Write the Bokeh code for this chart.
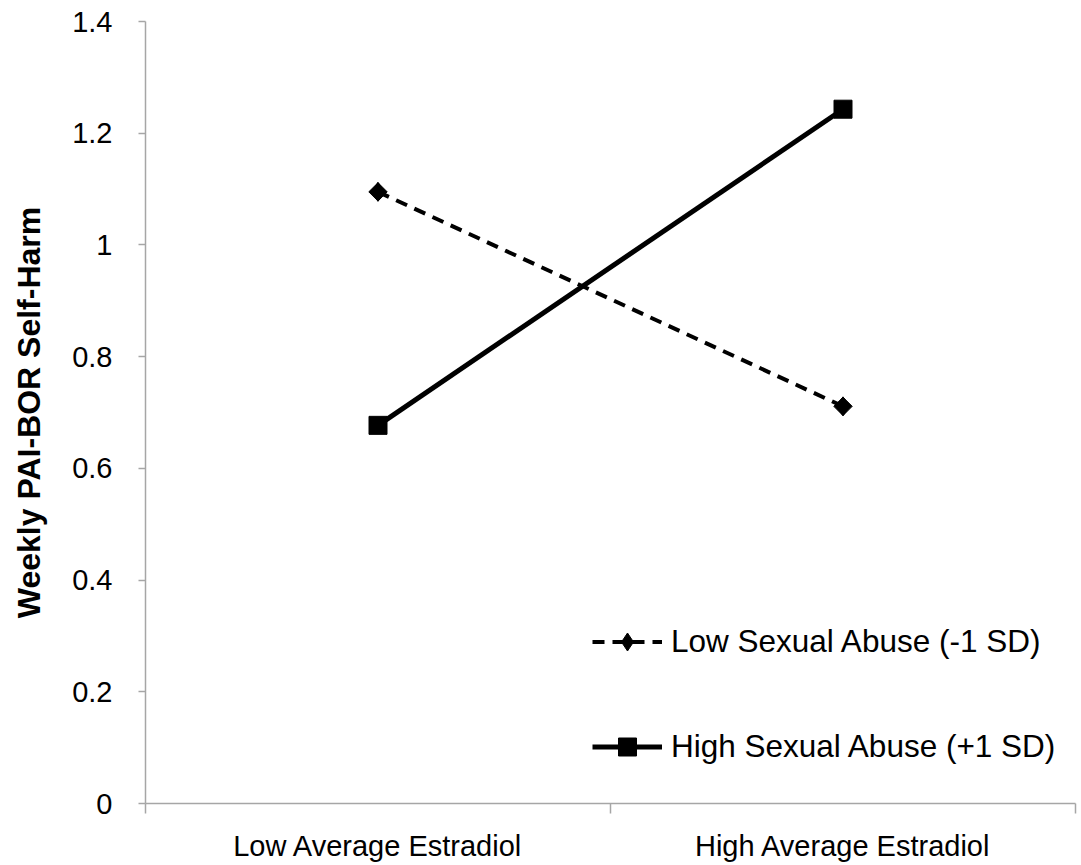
import math
from bokeh.plotting import figure
from bokeh.models import FixedTicker, Range1d, Legend, LegendItem
from bokeh.embed import file_html
from bokeh.resources import INLINE

categories = ["Low Average Estradiol", "High Average Estradiol"]
low_abuse = [1.095, 0.711]
high_abuse = [0.677, 1.243]
series_names = ["Low Sexual Abuse (-1 SD)", "High Sexual Abuse (+1 SD)"]
y_ticks = [0, 0.2, 0.4, 0.6, 0.8, 1.0, 1.2, 1.4]
y_tick_labels = ["0", "0.2", "0.4", "0.6", "0.8", "1", "1.2", "1.4"]

xs = [i + 0.5 for i in range(len(categories))]

FONT = "Liberation Sans"
AXIS_COLOR = "#A6A6A6"

p = figure(width=1081, height=865, output_backend="svg", toolbar_location=None,
           x_range=Range1d(0, len(categories)), y_range=Range1d(0, 1.4),
           min_border_left=145, min_border_right=6, min_border_top=21, min_border_bottom=62)
p.background_fill_color = "white"
p.border_fill_color = "white"
p.outline_line_color = None
p.grid.visible = False

# x axis
p.xaxis.ticker = FixedTicker(ticks=xs, minor_ticks=list(range(len(categories) + 1)))
p.xaxis.major_label_overrides = {x: c for x, c in zip(xs, categories)}
p.xaxis.major_tick_line_color = None
p.xaxis.minor_tick_line_color = AXIS_COLOR
p.xaxis.minor_tick_out = 10
p.xaxis.minor_tick_in = 0
p.xaxis.minor_tick_line_width = 1.5
p.xaxis.major_label_standoff = 16
p.xaxis.major_label_text_font = FONT
p.xaxis.major_label_text_font_size = "29px"
p.xaxis.major_label_text_color = "black"
p.xaxis.axis_line_color = AXIS_COLOR
p.xaxis.axis_line_width = 1.5

# y axis
p.yaxis.ticker = FixedTicker(ticks=y_ticks)
p.yaxis.major_label_overrides = {t: l for t, l in zip(y_ticks, y_tick_labels)}
p.yaxis.minor_tick_line_color = None
p.yaxis.major_tick_out = 7
p.yaxis.major_tick_in = 0
p.yaxis.major_tick_line_color = AXIS_COLOR
p.yaxis.major_tick_line_width = 1.5
p.yaxis.axis_line_color = AXIS_COLOR
p.yaxis.axis_line_width = 1.5
p.yaxis.major_label_standoff = 26
p.yaxis.major_label_text_font = FONT
p.yaxis.major_label_text_font_size = "29px"
p.yaxis.major_label_text_color = "black"
p.yaxis.axis_label = "Weekly PAI-BOR Self-Harm"
p.yaxis.axis_label_text_font = FONT
p.yaxis.axis_label_text_font_style = "bold"
p.yaxis.axis_label_text_font_size = "32px"
p.yaxis.axis_label_text_color = "black"
p.yaxis.axis_label_standoff = 22

l1 = p.line(xs, low_abuse, line_color="black", line_width=4, line_dash="12 8")
p.scatter(xs, low_abuse, marker="square", angle=math.pi / 4, size=13,
          fill_color="black", line_color="black")
m1 = p.scatter(xs, low_abuse, marker="diamond", size=19,
               fill_color="black", line_color="black")
l2 = p.line(xs, high_abuse, line_color="black", line_width=5)
m2 = p.scatter(xs, high_abuse, marker="square", size=18,
               fill_color="black", line_color="black")

legend = Legend(items=[LegendItem(label=series_names[0], renderers=[l1, m1]),
                       LegendItem(label=series_names[1], renderers=[l2, m2])],
                location=(447, 34), margin=0, padding=5, spacing=60,
                glyph_width=70, glyph_height=45, label_height=45, label_standoff=9,
                label_text_font=FONT, label_text_font_size="31.5px",
                label_text_color="black", border_line_color=None,
                background_fill_alpha=0)
p.add_layout(legend, "center")

open("out.html", "w").write(file_html(p, INLINE))
